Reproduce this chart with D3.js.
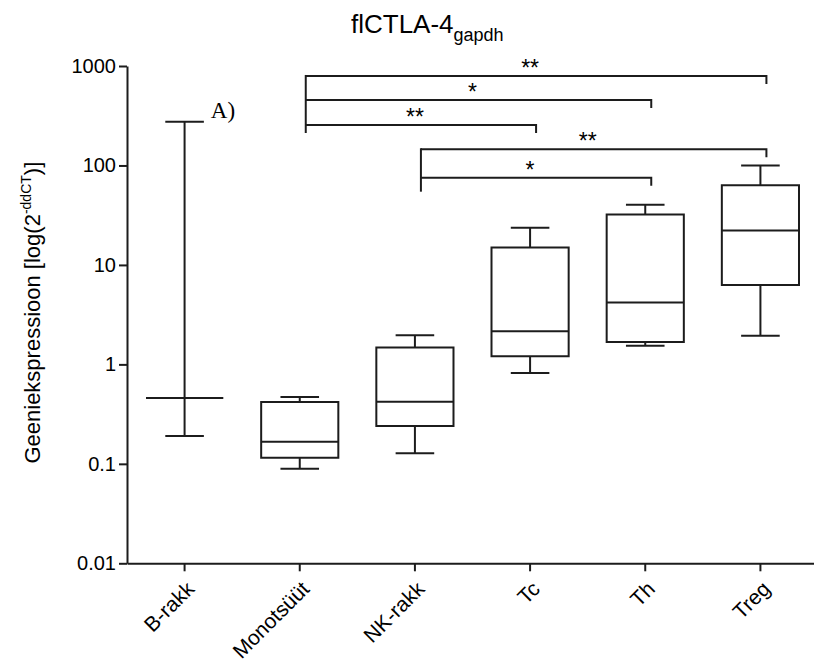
<!DOCTYPE html>
<html>
<head>
<meta charset="utf-8">
<script src="https://cdn.jsdelivr.net/npm/d3@7"></script>
<style>
  body { margin: 0; background: #fff; }
  svg { display: block; font-family: "Liberation Sans", Arial, sans-serif; }
</style>
</head>
<body>
<div id="chart"></div>
<script>
// --- Data ---
const categories = ["B-rakk", "Monotsüüt", "NK-rakk", "Tc", "Th", "Treg"];
const minVals    = [0.19, 0.089, 0.128, 0.82, 1.54, 1.94];
const q1Vals     = [0.46, 0.115, 0.24, 1.21, 1.68, 6.3];
const medianVals = [0.46, 0.167, 0.42, 2.15, 4.2, 22.2];
const q3Vals     = [0.46, 0.418, 1.48, 15.0, 32.2, 63.4];
const maxVals    = [275, 0.469, 1.96, 23.7, 40.3, 100];

const yTicks = [0.01, 0.1, 1, 10, 100, 1000];
const yTickLabels = ["0.01", "0.1", "1", "10", "100", "1000"];

// significance brackets (level in data units)
const bracketFrom  = ["Monotsüüt", "Monotsüüt", "Monotsüüt", "NK-rakk", "NK-rakk"];
const bracketTo    = ["Treg", "Th", "Tc", "Treg", "Th"];
const bracketLevel = [794, 455, 255, 145.5, 75.4];
const bracketStars = ["**", "*", "**", "**", "*"];
const stemCats = ["Monotsüüt", "NK-rakk"];
const stemLow  = [212, 54.5];

// --- Layout ---
const width = 814, height = 664;
const plot = { left: 127, right: 818, top: 66, bottom: 563.3 };
const ink = "#1c1c1c";

const svg = d3.select("#chart").append("svg")
    .attr("width", width)
    .attr("height", height);

const x = d3.scaleBand().domain(categories).range([plot.left, plot.right]);
const y = d3.scaleLog().domain([0.01, 1000]).range([plot.bottom, plot.top]);
const cx = c => x(c) + x.bandwidth() / 2;

const boxW = x.bandwidth() * 0.67;
const capW = x.bandwidth() * 0.335;

// --- Axes ---
const yAxis = svg.append("g")
    .attr("transform", `translate(${plot.left},0)`)
    .call(d3.axisLeft(y).tickValues(yTicks).tickFormat((d, i) => yTickLabels[i])
        .tickSize(8).tickSizeOuter(0).tickPadding(3));

const xAxis = svg.append("g")
    .attr("transform", `translate(0,${plot.bottom})`)
    .call(d3.axisBottom(x).tickSize(8).tickSizeOuter(0));

[yAxis, xAxis].forEach(g => {
    g.select(".domain").attr("stroke", ink).attr("stroke-width", 2);
    g.selectAll(".tick line").attr("stroke", ink).attr("stroke-width", 2);
    g.selectAll("text").attr("fill", "#000").style("font-size", "20px").style("font-family", "Liberation Sans, Arial, sans-serif");
});

xAxis.selectAll(".tick text")
    .style("font-size", "21px")
    .attr("text-anchor", "end")
    .attr("dy", 0)
    .attr("y", 0)
    .attr("transform", "translate(11,27) rotate(-45)");

// --- Boxes ---
const rows = categories.map((c, i) => ({
    cat: c, min: minVals[i], q1: q1Vals[i], med: medianVals[i], q3: q3Vals[i], max: maxVals[i]
}));

const boxes = svg.append("g")
    .attr("fill", "none")
    .attr("stroke", ink)
    .attr("stroke-width", 2);

rows.forEach(d => {
    const c = cx(d.cat);
    // whiskers
    boxes.append("line").attr("x1", c).attr("x2", c).attr("y1", y(d.max)).attr("y2", y(d.q3));
    boxes.append("line").attr("x1", c).attr("x2", c).attr("y1", y(d.q1)).attr("y2", y(d.min));
    boxes.append("line").attr("x1", c - capW / 2).attr("x2", c + capW / 2).attr("y1", y(d.max)).attr("y2", y(d.max));
    boxes.append("line").attr("x1", c - capW / 2).attr("x2", c + capW / 2).attr("y1", y(d.min)).attr("y2", y(d.min));
    // box
    const p = d3.path();
    p.rect(c - boxW / 2, y(d.q3), boxW, y(d.q1) - y(d.q3));
    boxes.append("path").attr("d", p.toString());
    // median
    boxes.append("line").attr("x1", c - boxW / 2).attr("x2", c + boxW / 2).attr("y1", y(d.med)).attr("y2", y(d.med));
});

// --- Significance brackets ---
const brk = svg.append("g")
    .attr("fill", "none")
    .attr("stroke", ink)
    .attr("stroke-width", 2);

const endShift = 6, drop = 8;

bracketFrom.forEach((from, i) => {
    const x1 = cx(from) + endShift;
    const x2 = cx(bracketTo[i]) + endShift;
    const yy = y(bracketLevel[i]);
    brk.append("path").attr("d", `M${x1},${yy}H${x2}V${yy + drop}`);
    svg.append("text")
        .attr("x", (cx(from) + cx(bracketTo[i])) / 2)
        .attr("y", yy)
        .attr("text-anchor", "middle")
        .style("font-size", "23px")
        .text(bracketStars[i]);
});

stemCats.forEach((c, i) => {
    const levels = bracketLevel.filter((v, j) => bracketFrom[j] === c);
    const xs = cx(c) + endShift;
    brk.append("line")
        .attr("x1", xs).attr("x2", xs)
        .attr("y1", y(d3.max(levels)) - 1)
        .attr("y2", y(stemLow[i]));
});

// --- Panel label ---
svg.append("text")
    .attr("x", cx("B-rakk") + capW / 2 + 7)
    .attr("y", y(maxVals[0]) - 4)
    .style("font-family", "Liberation Serif, Times New Roman, serif")
    .style("font-size", "23px")
    .text("A)");

// --- Titles ---
const title = svg.append("text")
    .attr("x", 351)
    .attr("y", 33)
    .style("font-size", "26px")
    .text("flCTLA-4");
title.append("tspan")
    .attr("dy", 8)
    .style("font-size", "18px")
    .text("gapdh");

const yLabel = svg.append("text")
    .attr("transform", `translate(40,${(plot.top + plot.bottom) / 2 - 2}) rotate(-90)`)
    .attr("text-anchor", "middle")
    .style("font-size", "22px")
    .text("Geeniekspressioon [log(2");
yLabel.append("tspan").attr("dy", -9).style("font-size", "14px").text("-ddCT");
yLabel.append("tspan").attr("dy", 9).text(")]");
</script>
</body>
</html>
